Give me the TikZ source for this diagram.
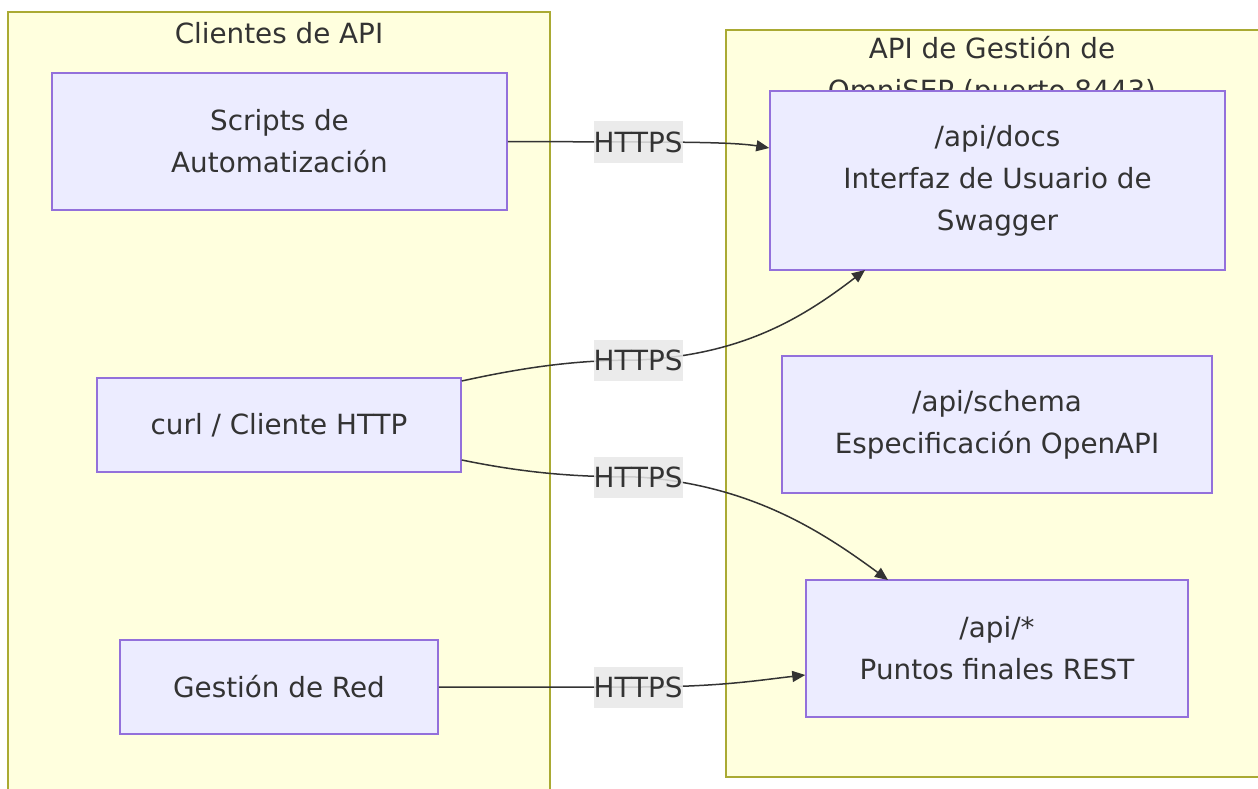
\documentclass[tikz,border=0pt]{standalone}
\usepackage{fontspec}
\setmainfont{DejaVu Sans}
\usepackage{tikz}
\usetikzlibrary{positioning,arrows.meta}

\definecolor{clusterfill}{HTML}{FFFFDE}
\definecolor{clusterline}{HTML}{AAAA33}
\definecolor{boxfill}{HTML}{ECECFF}
\definecolor{boxline}{HTML}{9370DB}
\definecolor{linkline}{HTML}{333333}
\definecolor{labelfill}{HTML}{E8E8E8}
\definecolor{txt}{HTML}{333333}

\tikzset{
  cluster/.style={draw=clusterline, fill=clusterfill, line width=1.5pt},
  clustertitle/.style={text=txt, align=center, font=\fontsize{27.8}{42}\selectfont, inner sep=0pt},
  box/.style={draw=boxline, fill=boxfill, line width=1.5pt, align=center, text=txt,
    font=\fontsize{27.8}{42}\selectfont, inner sep=0pt},
  link/.style={draw=linkline, line width=1.5pt, -{Triangle[length=13pt, width=11pt]}},
  https/.style={fill=labelfill, text=txt, font=\fontsize{27.8}{42}\selectfont,
    inner sep=0pt, minimum width=89pt, minimum height=41pt}
}

\begin{document}
\begin{tikzpicture}[x=1pt, y=-1pt]
        \useasboundingbox (0,0) rectangle (1258,789);
        \clip (0,0) rectangle (1258,789);
        % grupos
        \draw[cluster] (8,12) rectangle (550,800);
        \draw[cluster] (726,30) rectangle (1270,777);
        \node[clustertitle] (clientes) at (279,33) {Clientes de API};
        \node[clustertitle] (omnisep) at (992,71) {API de Gestión de\\OmniSEP (puerto 8443)};
        % clientes
        \node[box, minimum width=455pt, minimum height=137pt] (scripts) at (279.5,141.5) {Scripts de\\Automatización};
        \node[box, minimum width=364pt, minimum height=94pt] (curl) at (279,425) {curl / Cliente HTTP};
        \node[box, minimum width=318pt, minimum height=94pt] (red) at (279,687) {Gestión de Red};
        % puntos de la API
        \node[box, minimum width=455pt, minimum height=179pt] (docs) at (997.5,180.5) {/api/docs\\Interfaz de Usuario de\\Swagger};
        \node[box, minimum width=430pt, minimum height=137pt] (schema) at (997,424.5) {/api/schema\\Especificación OpenAPI};
        \node[box, minimum width=382pt, minimum height=137pt] (rest) at (997,648.5) {/api/*\\Puntos finales REST};
        % enlaces
        \coordinate (l1) at (638,142);
        \coordinate (l2) at (638,360);
        \coordinate (l3) at (638,477);
        \coordinate (l4) at (638,687);
        \draw[link] (scripts.east) -- (l1) .. controls (700,142) and (740,143) .. (docs.west |- 0,148);
        \draw[link] (curl.north east |- 0,381) .. controls (530,366) and (580,360) .. (l2)
            .. controls (740,355) and (800,320) .. (865,270);
        \draw[link] (curl.south east |- 0,460) .. controls (530,474) and (580,477) .. (l3)
            .. controls (750,485) and (820,530) .. (888,580);
        \draw[link] (red.east) -- (l4) .. controls (720,687) and (760,680) .. (rest.west |- 0,675);
        \foreach \l in {l1,l2,l3,l4}
            \node[https, fill opacity=0.85, text opacity=1] (h\l) at (\l) {HTTPS};
    \end{tikzpicture}
\end{document}
